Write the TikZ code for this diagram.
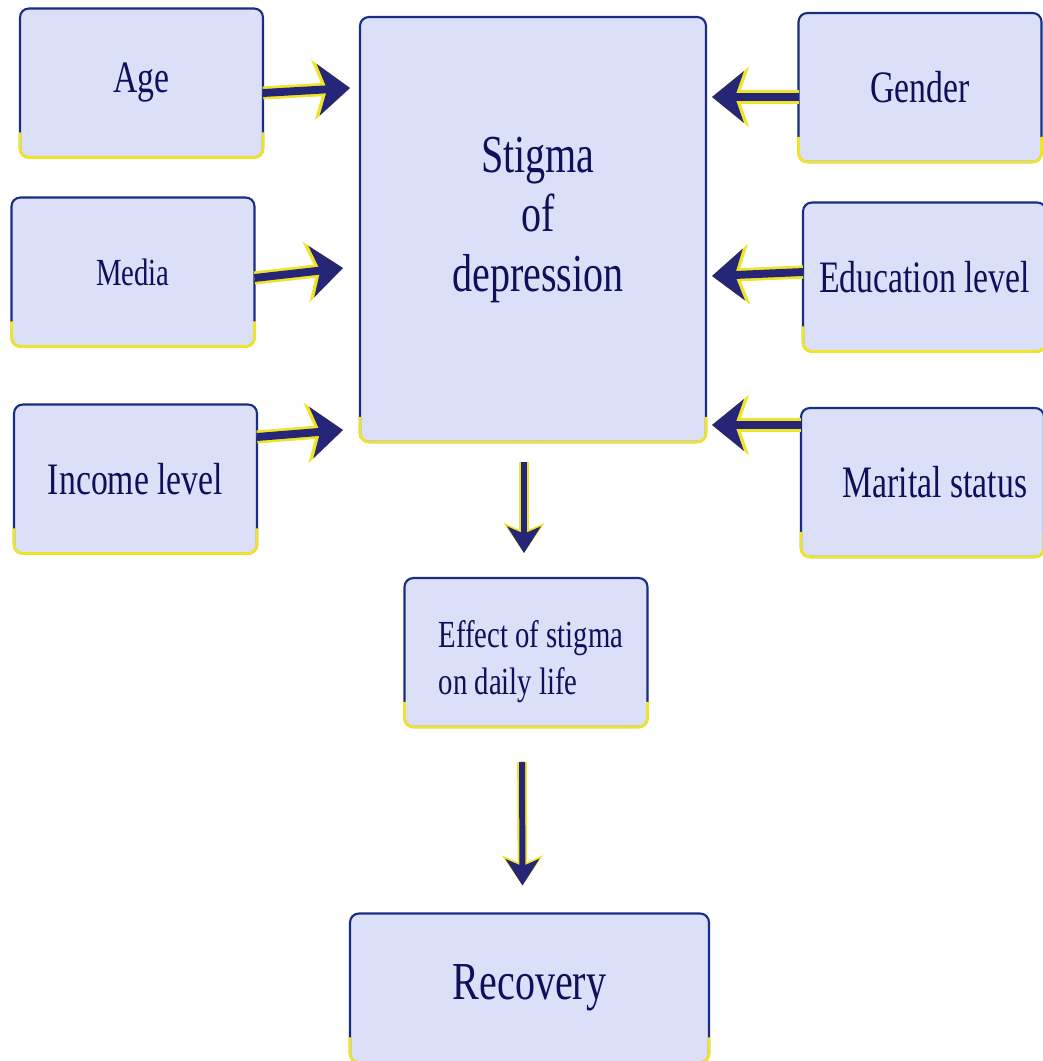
\documentclass[tikz,border=0pt]{standalone}
\usepackage{fontspec}
\setmainfont[FakeStretch=0.75]{Liberation Serif}
\usetikzlibrary{arrows.meta,calc}

\definecolor{boxfill}{RGB}{220,223,248}
\definecolor{boxline}{RGB}{25,45,130}
\definecolor{inkblue}{RGB}{15,15,90}
\definecolor{arrowblue}{RGB}{38,38,120}
\definecolor{glow}{RGB}{240,228,40}

\newcommand{\fontmid}{\fontsize{25.6}{30}\selectfont}
\newcommand{\fontbig}{\fontsize{30.4}{33.6}\selectfont}
\newcommand{\fontsmall}{\fontsize{21.8}{26.7}\selectfont}

\tikzset{
  box/.style={draw=boxline, line width=1.2pt, fill=boxfill, rounded corners=5pt, outer sep=0pt,
    text=inkblue, minimum width=4.86cm, minimum height=2.98cm, font=\fontmid},
  flow/.style={-{Stealth[length=18pt,width=29pt,inset=5pt]}, draw=arrowblue, line width=4.5pt,
    preaction={draw=glow, line width=7.5pt, -{Stealth[length=21pt,width=34pt,inset=6pt]}}},
  flowthin/.style={-{Stealth[length=15pt,width=19pt,inset=4pt]}, draw=arrowblue, line width=3.4pt,
    preaction={draw=glow, line width=5.5pt, -{Stealth[length=17pt,width=23pt,inset=5pt]}}}
}

\begin{document}
\begin{tikzpicture}[x=0.02cm, y=-0.02cm]
\useasboundingbox (0,0) rectangle (1043,1061);

% Boxes
\node[box] (age) at (141.5,83) {Age};
\node[box, minimum width=6.92cm, minimum height=8.5cm] (stigma) at (533,229.5) {};
\node[text=inkblue, font=\fontbig, align=center] (stigmatext) at (538,220) {Stigma\\of\\depression};
\node[box] (gender) at (920,87.5) {Gender};
\node[box, font=\fontsmall] (media) at (133,272) {Media};
\node[box] (education) at (924.5,277) {Education level};
\node[box] (income) at (135.5,479) {Income level};
\node[box] (marital) at (922.5,482.5) {\hspace*{0.5cm}Marital status};
\node[box] (effect) at (526,652.5) {};
\node[text=inkblue, font=\fontsmall, align=left] (effecttext) at (531,662) {Effect of stigma\\on daily life};
\node[box, minimum width=7.18cm, font=\fontbig] (recovery) at (529.5,988) {Recovery};

% Yellow lower edges
\foreach \n in {age,gender,media,education,income,marital,stigma,effect,recovery}
  \draw[glow, line width=1.6pt, rounded corners=5pt] ($(\n.south west)+(0,-25)$) -- (\n.south west) -- (\n.south east) -- ($(\n.south east)+(0,-25)$);

% Arrows into the stigma box
\draw[flow] (age.east |- 0,93) -- ($(stigma.west |- 0,88)+(-10,0)$);
\draw[flow] (media.east |- 0,278) -- ($(stigma.west |- 0,268)+(-17,0)$);
\draw[flow] (income.east |- 0,437) -- ($(stigma.west |- 0,430)+(-17,0)$);
\draw[flow] (gender.west |- 0,97) -- ($(stigma.east |- 0,97)+(6,0)$);
\draw[flow] (education.west |- 0,272) -- ($(stigma.east |- 0,276)+(6,0)$);
\draw[flow] (marital.west |- 0,425) -- ($(stigma.east |- 0,425)+(6,0)$);

% Downward chain
\draw[flowthin] ($(stigma.south)+(-9,20)$) -- ($(effect.north)+(-2,-25)$);
\draw[flowthin] ($(effect.south)+(-4,35)$) -- ($(recovery.north)+(-7,-28)$);

\end{tikzpicture}
\end{document}
